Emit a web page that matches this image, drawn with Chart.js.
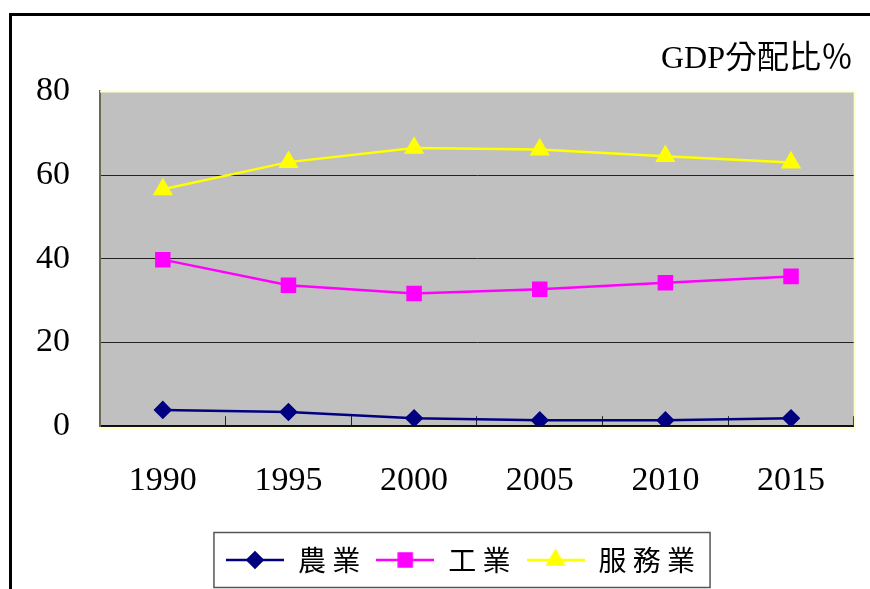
<!DOCTYPE html>
<html lang="zh-Hant">
<head>
<meta charset="utf-8">
<title>GDP分配比％</title>
<script src="https://cdn.jsdelivr.net/npm/chart.js@4.4.0/dist/chart.umd.min.js"></script>
<style>
  html, body { margin: 0; padding: 0; background: #fff; overflow: hidden; }
  #frame { position: absolute; left: 9px; top: 13px; width: 900px; height: 620px; border: 3px solid #000; }
  #wrap  { position: absolute; left: 0; top: 0; width: 870px; height: 589px; }
</style>
</head>
<body>
<div id="frame"></div>
<div id="wrap"><canvas id="chart" width="870" height="589"></canvas></div>
<script>
"use strict";

/* ------------------------------------------------------------------
 * Data
 * ------------------------------------------------------------------ */
const years       = ["1990", "1995", "2000", "2005", "2010", "2015"];
const agriculture = [3.9, 3.4, 1.9, 1.4, 1.4, 1.9];
const industry    = [39.8, 33.7, 31.7, 32.7, 34.3, 35.8];
const services    = [56.6, 63.1, 66.5, 66.1, 64.5, 63.0];
const seriesNames = ["農業", "工業", "服務業"];
const yMin  = 0;
const yMax  = 80;
const yStep = 20;
const titleText = "GDP分配比％";

const SERIF = '"Liberation Serif", "Noto Sans CJK TC", serif';
const CJK   = '"Noto Sans CJK TC", "Noto Sans CJK JP", sans-serif';

/* ------------------------------------------------------------------
 * Legend icon: short line with the marker in the middle
 * ------------------------------------------------------------------ */
function _legendIcon(color, pointStyle, radius) {
  const c = document.createElement("canvas");
  c.width = 58;
  c.height = 22;
  const ctx = c.getContext("2d");
  ctx.strokeStyle = color;
  ctx.lineWidth = 2.5;
  ctx.beginPath();
  ctx.moveTo(0, 11);
  ctx.lineTo(58, 11);
  ctx.stroke();
  ctx.fillStyle = color;
  Chart.helpers.drawPoint(ctx, { pointStyle: pointStyle, radius: radius, rotation: 0, borderWidth: 1 }, 29, 11);
  return c;
}

/* ------------------------------------------------------------------
 * Plot background + frame
 * ------------------------------------------------------------------ */
const plotFrame = {
  id: "plotFrame",
  beforeDraw: function (chart) {
    const a = chart.chartArea;
    const ctx = chart.ctx;
    ctx.save();
    ctx.fillStyle = "#C0C0C0";
    ctx.fillRect(a.left, a.top, a.right - a.left, a.bottom - a.top);
    ctx.restore();
  },
  beforeDatasetsDraw: function (chart) {
    const a = chart.chartArea;
    const ctx = chart.ctx;
    ctx.save();
    ctx.strokeStyle = "#FFFFC8";
    ctx.lineWidth = 2;
    ctx.beginPath();
    ctx.moveTo(a.left, a.top);
    ctx.lineTo(a.right + 1, a.top);
    ctx.lineTo(a.right + 1, a.bottom);
    ctx.stroke();
    ctx.beginPath();
    ctx.moveTo(a.left, a.bottom + 2);
    ctx.lineTo(a.right + 2, a.bottom + 2);
    ctx.stroke();
    ctx.restore();
  },
};

/* ------------------------------------------------------------------
 * Legend: nudge right a bit and draw a box round it
 * ------------------------------------------------------------------ */
const legendBox = {
  id: "legendBox",
  afterLayout: function (chart) {
    if (!chart.legend) return;
    chart.legend.left  += 12;
    chart.legend.right += 12;
  },
  afterDraw: function (chart) {
    const boxes = chart.legend && chart.legend.legendHitBoxes;
    if (!boxes || !boxes.length) return;
    let left = Infinity, right = -Infinity, mid = 0;
    boxes.forEach(function (b) {
      left  = Math.min(left, b.left);
      right = Math.max(right, b.left + b.width);
      mid   = b.top + b.height / 2;
    });
    const ctx = chart.ctx;
    ctx.save();
    ctx.strokeStyle = "#555";
    ctx.lineWidth = 1.5;
    ctx.strokeRect(left - 12, mid - 27.5, right - left + 27, 55);
    ctx.restore();
  },
};

/* ------------------------------------------------------------------
 * Chart
 * ------------------------------------------------------------------ */
const icons = [
  _legendIcon("#000080", "rectRot", 7.5),
  _legendIcon("#FF00FF", "rect", 9.2),
  _legendIcon("#FFFF00", "triangle", 9.2),
];

new Chart(document.getElementById("chart").getContext("2d"), {
  type: "line",
  data: {
    labels: years,
    datasets: [
      {
        label: seriesNames[0],
        data: agriculture,
        borderColor: "#000080",
        backgroundColor: "#000080",
        borderWidth: 2.5,
        pointStyle: "rectRot",
        pointRadius: 7.5,
        pointHoverRadius: 7.5,
        tension: 0,
      },
      {
        label: seriesNames[1],
        data: industry,
        borderColor: "#FF00FF",
        backgroundColor: "#FF00FF",
        borderWidth: 2.5,
        pointStyle: "rect",
        pointRadius: 9.2,
        pointHoverRadius: 9.2,
        tension: 0,
      },
      {
        label: seriesNames[2],
        data: services,
        borderColor: "#FFFF00",
        backgroundColor: "#FFFF00",
        borderWidth: 2.5,
        pointStyle: "triangle",
        pointRadius: 9.2,
        pointHoverRadius: 9.2,
        tension: 0,
      },
    ],
  },
  options: {
    responsive: false,
    animation: false,
    layout: { padding: { top: 40, right: 9, bottom: 5, left: 36 } },
    plugins: {
      title: {
        display: true,
        text: titleText + " ",
        align: "end",
        color: "#000",
        font: { family: SERIF, size: 32, weight: "normal", lineHeight: 1.2 },
        padding: { top: 0, bottom: 13 },
      },
      legend: {
        position: "bottom",
        labels: {
          usePointStyle: true,
          pointStyleWidth: 58,
          padding: 16,
          color: "#000",
          font: { family: CJK, size: 28, weight: "normal" },
          generateLabels: function (chart) {
            return chart.data.datasets.map(function (ds, i) {
              return {
                text: ds.label.split("").join(" "),
                pointStyle: icons[i],
                fillStyle: ds.backgroundColor,
                strokeStyle: ds.borderColor,
                lineWidth: 0,
                hidden: false,
                datasetIndex: i,
              };
            });
          },
        },
      },
      tooltip: { enabled: false },
    },
    scales: {
      x: {
        offset: true,
        afterFit: function (scale) { scale.height -= 15; },
        border: { color: "#111", width: 2 },
        grid: {
          offset: true,
          drawOnChartArea: false,
          drawTicks: true,
          tickLength: -10,
          color: "#222",
          tickColor: "#222",
        },
        ticks: {
          padding: 44,
          color: "#000",
          font: { family: SERIF, size: 34, weight: "normal" },
        },
      },
      y: {
        min: yMin,
        max: yMax,
        afterFit: function (scale) { scale.width = 64; },
        border: { color: "#6B6B55", width: 2 },
        grid: {
          drawTicks: false,
          lineWidth: 1,
          color: function (c) { return c.tick && c.tick.value === yMax ? "rgba(0,0,0,0)" : "#222"; },
        },
        ticks: {
          stepSize: yStep,
          padding: 30,
          color: "#000",
          font: { family: SERIF, size: 34, weight: "normal" },
        },
      },
    },
  },
  plugins: [plotFrame, legendBox],
});
</script>
</body>
</html>
